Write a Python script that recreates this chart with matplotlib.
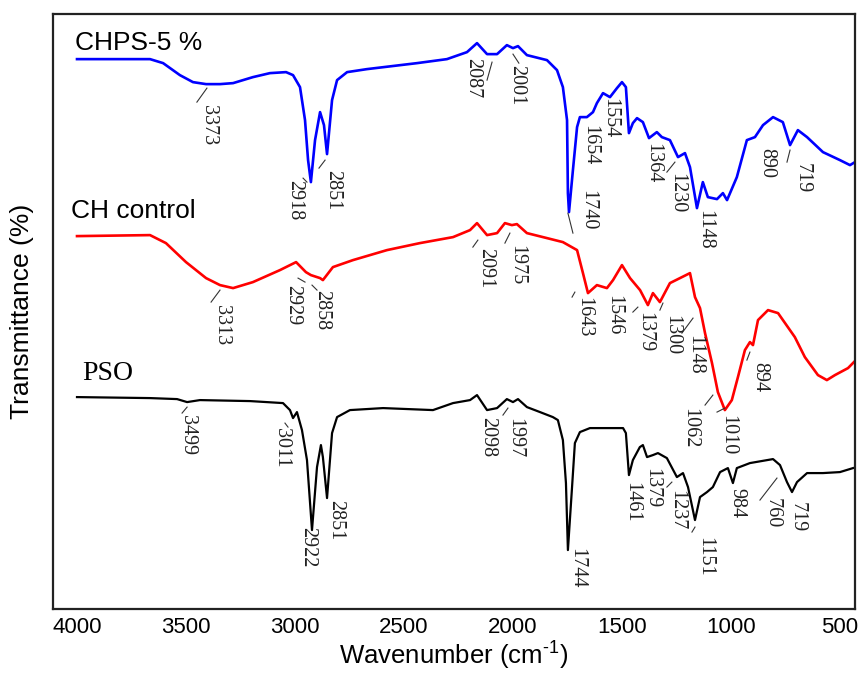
import matplotlib
matplotlib.use('Agg')
import matplotlib.pyplot as plt

plt.rcParams['font.family'] = ['Liberation Sans', 'DejaVu Sans']
plt.rcParams['mathtext.fontset'] = 'custom'
plt.rcParams['mathtext.rm'] = 'Liberation Sans'
plt.rcParams['mathtext.it'] = 'Liberation Sans'

# spectra (wavenumber, transmittance in arbitrary units)
chps_wn = [4000, 3665, 3605, 3528, 3468, 3408, 3344, 3284, 3193, 3115, 3041, 3009, 2977,
           2954, 2940, 2927, 2908, 2885, 2867, 2853, 2830, 2807, 2761, 2670, 2440, 2303,
           2211, 2165, 2119, 2073, 2028, 2000, 1977, 1936, 1844, 1798, 1771, 1752, 1748,
           1743, 1725, 1706, 1693, 1661, 1633, 1615, 1587, 1555, 1523, 1500, 1482, 1468,
           1450, 1431, 1404, 1376, 1340, 1317, 1280, 1243, 1211, 1188, 1156, 1129, 1106,
           1064, 1037, 1018, 973, 927, 890, 853, 807, 762, 729, 693, 651, 578, 500, 454, 431]
chps_t = [549, 549, 545, 533, 526, 524, 524, 525, 531, 535, 536, 533, 521,
          488, 448, 426, 468, 496, 483, 454, 508, 528, 536, 539, 545, 549,
          556, 565, 554, 554, 563, 560, 562, 553, 548, 538, 521, 488, 415,
          396, 438, 481, 491, 491, 496, 505, 515, 511, 520, 526, 521, 475,
          485, 490, 486, 470, 476, 471, 468, 451, 455, 441, 400, 426, 411,
          409, 415, 408, 431, 468, 471, 483, 491, 486, 463, 478, 471, 456, 448, 443, 446]

ch_wn = [4000, 3665, 3592, 3500, 3408, 3344, 3284, 3193, 3069, 2995, 2950, 2927, 2885,
         2872, 2826, 2734, 2578, 2427, 2275, 2197, 2165, 2119, 2073, 2037, 2005, 1982,
         1936, 1844, 1771, 1706, 1679, 1656, 1615, 1569, 1541, 1500, 1463, 1417, 1381,
         1358, 1326, 1280, 1234, 1188, 1165, 1142, 1119, 1087, 1060, 1028, 996, 968, 936,
         913, 899, 876, 830, 784, 707, 661, 601, 560, 523, 463, 436]
ch_t = [372, 373, 365, 346, 330, 323, 320, 326, 338, 346, 336, 333, 330,
        328, 341, 348, 358, 365, 371, 378, 385, 373, 375, 385, 383, 384,
        375, 370, 366, 358, 335, 315, 323, 320, 328, 343, 330, 318, 303,
        315, 306, 325, 330, 335, 311, 300, 275, 245, 216, 198, 208, 231, 258,
        266, 263, 288, 298, 295, 271, 251, 233, 228, 233, 240, 246]

pso_wn = [4000, 3665, 3541, 3495, 3436, 3206, 3055, 3023, 3009, 2991, 2968, 2945, 2922,
          2899, 2881, 2872, 2853, 2830, 2807, 2748, 2596, 2367, 2275, 2197, 2165, 2119,
          2073, 2028, 2000, 1977, 1936, 1876, 1817, 1794, 1771, 1757, 1748, 1729, 1716,
          1693, 1647, 1495, 1482, 1468, 1450, 1418, 1404, 1385, 1358, 1335, 1294, 1248,
          1220, 1197, 1165, 1142, 1110, 1083, 1050, 1014, 991, 973, 913, 807, 775, 743,
          720, 697, 651, 578, 500, 440]
pso_t = [211, 210, 209, 206, 208, 207, 205, 198, 190, 196, 178, 148, 78,
         141, 163, 151, 110, 175, 191, 198, 200, 198, 205, 208, 213, 198,
         200, 209, 206, 209, 201, 196, 191, 188, 168, 125, 58, 121, 165,
         176, 180, 180, 175, 133, 148, 161, 163, 151, 153, 155, 150, 131,
         135, 121, 88, 111, 116, 121, 136, 140, 125, 140, 145, 149, 143, 126,
         116, 126, 135, 135, 136, 140]

series_names = ['CHPS-5 %', 'CH control', 'PSO']

# peak labels: text, text x, text top, leader start, leader end
chps_peaks = [('3373', 3399, 503, (3450, 506), (3404, 520)),
              ('2918', 3000, 428, (2963, 430), (2945, 426)),
              ('2851', 2826, 438, (2890, 440), (2862, 448)),
              ('2087', 2184, 550, (2119, 528), (2096, 546)),
              ('2001', 1982, 543, (2000, 554), (1973, 545)),
              ('1654', 1647, 483, None, None),
              ('1740', 1656, 418, (1748, 395), (1725, 375)),
              ('1554', 1555, 510, None, None),
              ('1364', 1358, 465, None, None),
              ('1230', 1248, 435, (1294, 436), (1257, 446)),
              ('1148', 1119, 398, None, None),
              ('890', 835, 460, None, None),
              ('719', 674, 445, (743, 446), (729, 458))]
ch_peaks = [('3313', 3335, 303, (3385, 306), (3344, 318)),
            ('2929', 3009, 323, (2986, 330), (2954, 326)),
            ('2858', 2876, 318, (2922, 323), (2899, 318)),
            ('2091', 2124, 360, (2184, 361), (2161, 368)),
            ('1975', 1982, 363, (2037, 365), (2014, 375)),
            ('1643', 1674, 311, (1729, 311), (1716, 316)),
            ('1546', 1537, 313, None, None),
            ('1379', 1395, 296, (1450, 296), (1427, 301)),
            ('1300', 1271, 293, (1326, 298), (1312, 305)),
            ('1148', 1165, 273, (1225, 275), (1174, 290)),
            ('894', 867, 246, (927, 248), (913, 256)),
            ('1062', 1188, 200, (1119, 203), (1083, 213)),
            ('1010', 1014, 193, (1064, 196), (1028, 200))]
pso_peaks = [('3499', 3491, 193, (3518, 195), (3495, 201)),
             ('3011', 3060, 180, (3046, 185), (3032, 181)),
             ('2922', 2940, 81, None, None),
             ('2851', 2812, 108, None, None),
             ('2098', 2115, 191, None, None),
             ('1997', 1991, 190, (2046, 193), (2023, 200)),
             ('1744', 1706, 60, None, None),
             ('1461', 1454, 126, None, None),
             ('1379', 1362, 140, None, None),
             ('1237', 1248, 118, (1294, 121), (1271, 126)),
             ('1151', 1119, 71, (1179, 76), (1165, 81)),
             ('984', 973, 120, None, None),
             ('760', 812, 110, (867, 108), (789, 130)),
             ('719', 697, 106, None, None)]

fig = plt.figure(figsize=(8.58, 6.73), dpi=100)
ax = fig.add_axes([0.0618, 0.095, 0.9347, 0.884])

ax.plot(chps_wn, chps_t, color='#0000ff', lw=1.9, solid_joinstyle='round')
ax.plot(ch_wn, ch_t, color='#ff0000', lw=1.9, solid_joinstyle='round')
ax.plot(pso_wn, pso_t, color='black', lw=1.6, solid_joinstyle='round')

for peaks in [chps_peaks, ch_peaks, pso_peaks]:
    for txt, x, y, p1, p2 in peaks:
        ax.text(x, y, txt, rotation=270, ha='center', va='top', fontsize=14.5,
                family=['Liberation Serif', 'DejaVu Serif'], color='#222222')
        if p1 is not None:
            ax.plot([p1[0], p2[0]], [p1[1], p2[1]], color='#333333', lw=0.8)

ax.text(4009, 558, series_names[0], fontsize=19, ha='left', va='baseline')
ax.text(4028, 390, series_names[1], fontsize=19, ha='left', va='baseline')
ax.text(3977, 228, series_names[2], fontsize=20, ha='left', va='baseline',
        family=['Liberation Serif', 'DejaVu Serif'])

ax.set_xlim(4110, 431)
ax.set_ylim(-1, 594)
ax.set_xticks([4000, 3500, 3000, 2500, 2000, 1500, 1000, 500])
ax.set_yticks([])
ax.tick_params(axis='x', length=0, pad=6, labelsize=16)
for s in ax.spines.values():
    s.set_linewidth(1.6)
    s.set_color('#222222')

ax.set_xlabel('Wavenumber (cm$^{\\text{-1}}$)', fontsize=18.5, labelpad=1)
ax.set_ylabel('Transmittance (%)', fontsize=19, labelpad=14)

fig.savefig('out.png', dpi=100)
